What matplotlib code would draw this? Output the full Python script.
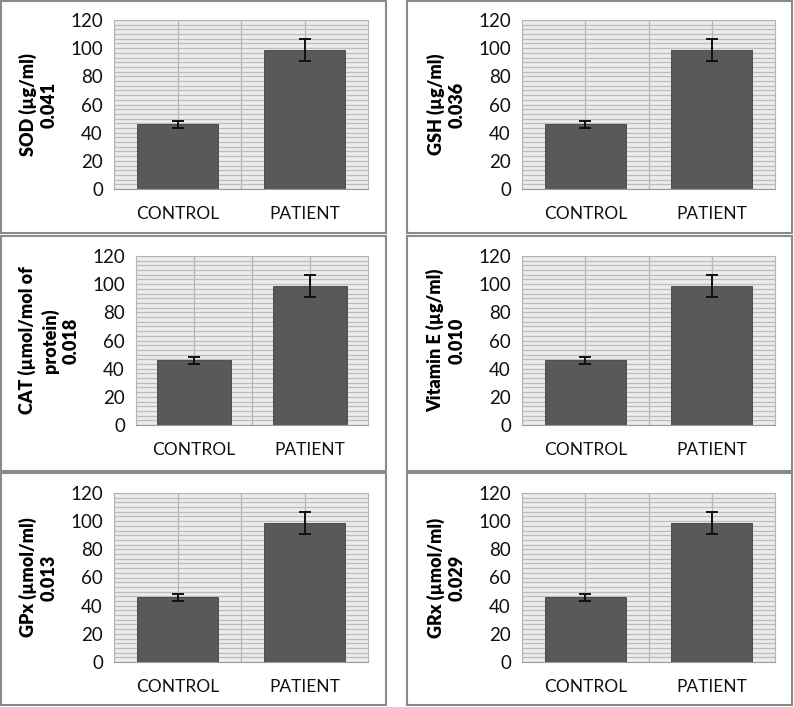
import numpy as np
import matplotlib.pyplot as plt
from matplotlib.patches import Rectangle

plt.rcParams['font.family'] = ['Lato', 'DejaVu Sans']

groups = ['CONTROL', 'PATIENT']
labels = ['SOD (µg/ml)\n0.041', 'GSH (µg/ml)\n0.036',
          'CAT (µmol/mol of\nprotein)\n0.018', 'Vitamin E (µg/ml)\n0.010',
          'GPx (µmol/ml)\n0.013', 'GRx (µmol/ml)\n0.029']
means = [45.8, 98.6]
errs = [2.8, 7.7]

W, H = 794, 707
fig = plt.figure(figsize=(W / 100, H / 100), dpi=100)

# panel frames (pixels: x0, y0, x1, y1)
frames = [(1, 1, 386, 233), (407, 1, 792, 233),
          (1, 236, 386, 471), (407, 236, 792, 471),
          (1, 473, 386, 705), (407, 473, 792, 705)]
# plot areas (pixels)
areas = [(114, 20, 368, 189), (522, 20, 775, 189),
         (136, 256, 368, 425), (522, 256, 775, 425),
         (114, 493, 368, 662), (522, 493, 775, 662)]

for (x0, y0, x1, y1) in frames:
    fig.patches.append(Rectangle((x0 / W, 1 - y1 / H), (x1 - x0) / W, (y1 - y0) / H,
                                 transform=fig.transFigure, fill=False,
                                 edgecolor='#8a8a8a', lw=1.5))

x = np.arange(len(groups))
for lab, (x0, y0, x1, y1) in zip(labels, areas):
    ax = fig.add_axes([x0 / W, 1 - y1 / H, (x1 - x0) / W, (y1 - y0) / H])
    ax.set_facecolor('#ececec')
    ax.set_xlim(-0.5, 1.5)
    ax.set_ylim(0, 120)
    ax.set_yticks(np.arange(0, 121, 20))
    ax.set_yticks(np.arange(0, 120, 20 / 6), minor=True)
    ax.set_xticks(x)
    ax.set_xticks([0.5], minor=True)
    ax.grid(True, which='both', axis='y', color='#bcbcbc', lw=0.9)
    ax.grid(True, which='both', axis='x', color='#b4b4b4', lw=0.9)
    ax.set_axisbelow(True)
    ax.bar(x, means, width=0.64, color='#595959', edgecolor='#404040', lw=0.6,
           yerr=errs, capsize=4, error_kw=dict(ecolor='#111111', elinewidth=1.4, capthick=1.4))
    ax.set_xticklabels(groups, fontsize=12.5)
    ax.tick_params(axis='both', which='both', length=0, colors='#111111')
    ax.tick_params(axis='y', labelsize=13.5, pad=8)
    ax.tick_params(axis='x', pad=12)
    for s in ax.spines.values():
        s.set_color('#b4b4b4')
        s.set_linewidth(0.8)
    ax.spines['bottom'].set_color('#9a9a9a')
    ax.set_ylabel(lab, fontsize=13, fontweight='heavy', linespacing=1.28, labelpad=9)

fig.savefig('out.png', dpi=100)
